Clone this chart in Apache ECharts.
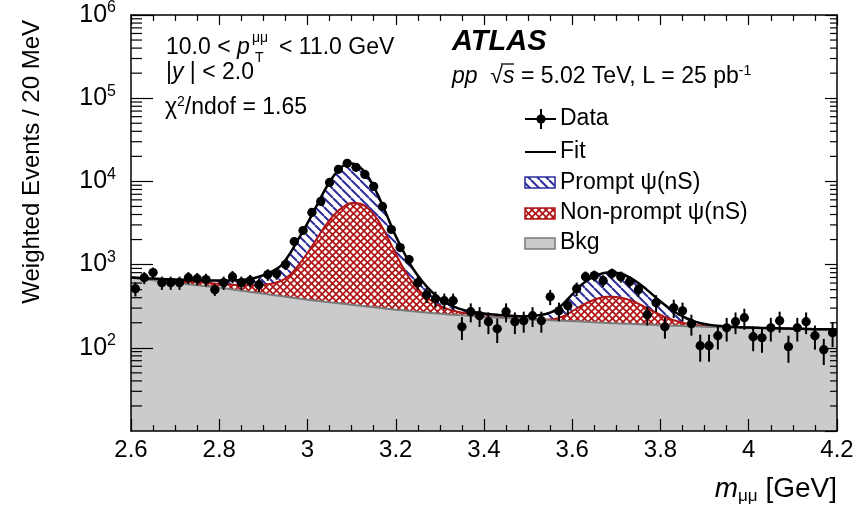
<!DOCTYPE html>
<html>
<head>
<meta charset="utf-8">
<script src="https://cdn.jsdelivr.net/npm/echarts@6/dist/echarts.min.js"></script>
<style>
html,body{margin:0;padding:0;background:#fff;}
#chart{width:858px;height:507px;}
</style>
</head>
<body>
<div id="chart"></div>
<script>
// ---------------- data ----------------
const massBins = [2.61,2.63,2.65,2.67,2.69,2.71,2.73,2.75,2.77,2.79,2.81,2.83,2.85,2.87,2.89,2.91,2.93,2.95,2.97,2.99,3.01,3.03,3.05,3.07,3.09,3.11,3.13,3.15,3.17,3.19,3.21,3.23,3.25,3.27,3.29,3.31,3.33,3.35,3.37,3.39,3.41,3.43,3.45,3.47,3.49,3.51,3.53,3.55,3.57,3.59,3.61,3.63,3.65,3.67,3.69,3.71,3.73,3.75,3.77,3.79,3.81,3.83,3.85,3.87,3.89,3.91,3.93,3.95,3.97,3.99,4.01,4.03,4.05,4.07,4.09,4.11,4.13,4.15,4.17,4.19];
const weightedEvents = [514,697,801,607,607,607,697,678,660,500,
  607,716,607,641,574,759,776,1000,1892,2570,
  4240,5740,9720,13960,16490,14760,12140,8710,5000,2640,
  1600,1148,607,435,389,368,368,179,272,243,
  206,169,272,206,212,243,212,411,279,321,
  514,716,737,641,780,716,624,500,250,349,
  179,303,279,195,106,106,140,174,206,230,
  136,132,174,212,103,174,206,140,95,152];
const eventErrors = [100,115,120,110,110,110,115,115,115,80,
  110,120,110,110,105,120,120,140,200,250,
  330,400,550,650,700,650,600,500,380,250,
  180,150,110,90,85,80,80,55,70,65,
  60,55,70,60,60,65,60,85,70,75,
  95,110,110,105,115,110,105,95,65,80,
  50,75,70,55,38,38,45,55,60,65,
  45,45,55,60,37,55,60,45,33,50];

const curveX = [2.60,2.62,2.64,2.66,2.68,2.70,2.72,2.74,2.76,2.78,2.80,2.82,2.84,2.86,2.88,2.90,2.92,2.94,2.96,2.98,3.00,3.02,3.04,3.06,3.08,3.10,3.12,3.14,3.16,3.18,3.20,3.22,3.24,3.26,3.28,3.30,3.32,3.34,3.36,3.38,3.40,3.42,3.44,3.46,3.48,3.50,3.52,3.54,3.56,3.58,3.60,3.62,3.64,3.66,3.68,3.70,3.72,3.74,3.76,3.78,3.80,3.82,3.84,3.86,3.88,3.90,3.92,3.94,3.96,3.98,4.00,4.02,4.04,4.06,4.08,4.10,4.12,4.14,4.16,4.18,4.20];
// total fit
const fitTotal = [700,690,682,675,668,662,656,651,647,644,
  642,643,648,660,690,745,830,970,1350,2050,
  3150,5000,8000,11800,15300,16400,14600,10800,6800,3900,
  2200,1350,880,630,480,390,335,300,280,268,
  258,251,246,242,240,240,244,255,280,340,
  440,565,675,760,805,800,745,650,545,445,
  360,298,255,225,205,193,186,182,179,177,
  175,174,173,172,171,170,169,168,167,167,166];
// background + non-prompt psi(nS)
const fitNonPromptTop = [700,688,676,664,652,641,630,619,608,597,
  586,576,568,563,563,570,592,635,750,990,
  1380,2000,2900,3950,4900,5500,5400,4600,3400,2200,
  1350,850,590,450,370,320,290,271,258,248,
  240,235,231,228,225,222,220,219,222,240,
  275,318,360,395,411,408,390,358,318,280,
  248,224,207,195,188,183,180,178,177,176,
  175,174,173,172,171,170,169,168,167,167,166];
// background
const fitBkg = [697,678,659,641,624,607,590,574,558,543,
  528,511,494,478,462,447,432,418,404,391,
  379,368,358,348,339,330,321,312,303,295,
  287,281,274,268,262,257,252,248,244,240,
  236,233,229,226,223,220,218,216,213,211,
  209,207,204,202,199,197,195,193,191,189,
  187,185,184,182,181,179,178,177,176,175,
  174,173,172,171,170,169,168,167,166,166,165];

const yMinorTickValues = [20,30,40,50,60,70,80,90,200,300,400,500,600,700,800,900,
  2000,3000,4000,5000,6000,7000,8000,9000,20000,30000,40000,50000,60000,70000,80000,90000,
  200000,300000,400000,500000,600000,700000,800000,900000];

const legendLabels = ['Data','Fit','Prompt \u03c8(nS)','Non-prompt \u03c8(nS)','Bkg'];

// ---------------- styling ----------------
const X_MIN = 2.6, X_MAX = 4.2, X_STEP = 0.2, Y_MIN = 10, Y_MAX = 1e6;
const BIN_HALF = 0.01;
const FONT = '"Liberation Sans", Arial, Helvetica, sans-serif';
const BLUE = '#2c2c9c', RED = '#b01414', GRAY_FILL = '#cbcbcb', GRAY_LINE = '#7a7a7a';

function hatchCanvas() {
  const s = 9, c = document.createElement('canvas');
  c.width = s; c.height = s;
  const g = c.getContext('2d');
  g.fillStyle = '#fff'; g.fillRect(0, 0, s, s);
  g.strokeStyle = BLUE; g.lineWidth = 2;
  for (const o of [-s, 0, s]) { g.beginPath(); g.moveTo(o, 0); g.lineTo(o + s, s); g.stroke(); }
  return c;
}
function crossCanvas() {
  const s = 7, c = document.createElement('canvas');
  c.width = s; c.height = s;
  const g = c.getContext('2d');
  g.fillStyle = '#fff'; g.fillRect(0, 0, s, s);
  g.strokeStyle = RED; g.lineWidth = 1.7;
  for (const o of [-s, 0, s]) {
    g.beginPath(); g.moveTo(o, 0); g.lineTo(o + s, s); g.stroke();
    g.beginPath(); g.moveTo(o + s, 0); g.lineTo(o, s); g.stroke();
  }
  return c;
}
const bluePattern = { image: hatchCanvas(), repeat: 'repeat' };
const redPattern = { image: crossCanvas(), repeat: 'repeat' };

const pairs = (xs, ys) => xs.map((x, i) => [x, ys[i]]);

function renderData(params, api) {
  const x = api.value(0), y = api.value(1), e = api.value(2);
  const c = api.coord([x, y]);
  const t = api.coord([x, y + e]);
  const b = api.coord([x, Math.max(y - e, 1e-3)]);
  const l = api.coord([x - BIN_HALF, y]);
  const r = api.coord([x + BIN_HALF, y]);
  return {
    type: 'group',
    children: [
      { type: 'line', shape: { x1: c[0], y1: t[1], x2: c[0], y2: b[1] }, style: { stroke: '#000', lineWidth: 2 } },
      { type: 'line', shape: { x1: l[0], y1: c[1], x2: r[0], y2: c[1] }, style: { stroke: '#000', lineWidth: 1.5 } },
      { type: 'circle', shape: { cx: c[0], cy: c[1], r: 4.6 }, style: { fill: '#000' } }
    ]
  };
}
function renderMinorTicks(params, api) {
  const v = api.value(1);
  const L = api.coord([X_MIN, v]);
  const R = api.coord([X_MAX, v]);
  return {
    type: 'group',
    children: [
      { type: 'line', shape: { x1: L[0], y1: L[1], x2: L[0] + 11, y2: L[1] }, style: { stroke: '#000', lineWidth: 1.2 } },
      { type: 'line', shape: { x1: R[0] - 7, y1: R[1], x2: R[0], y2: R[1] }, style: { stroke: '#000', lineWidth: 1.2 } }
    ]
  };
}

function txt(x, y, text, extra) {
  return {
    type: 'text', x: x, y: y, silent: true, z: 100,
    style: Object.assign({ text: text, fontSize: 23, fontFamily: FONT, fill: '#000', align: 'left', verticalAlign: 'middle' }, extra || {})
  };
}
const italic = { fontStyle: 'italic', fontSize: 23, fontFamily: FONT };

const axisLineStyle = { color: '#000', width: 1.5 };
const tickStyle = { color: '#000', width: 1.2 };

const option = {
  animation: false,
  backgroundColor: '#fff',
  grid: { left: 131, right: 21, top: 15, bottom: 76, containLabel: false },
  xAxis: [
    {
      type: 'value', min: X_MIN, max: X_MAX, interval: X_STEP, position: 'bottom', z: 10,
      axisLine: { show: true, onZero: false, lineStyle: axisLineStyle },
      axisTick: { show: true, inside: true, length: 12, lineStyle: tickStyle },
      minorTick: { show: true, splitNumber: 4, length: 6, lineStyle: tickStyle },
      splitLine: { show: false },
      axisLabel: { fontSize: 24, fontFamily: FONT, color: '#000', margin: 7,
        formatter: v => String(Math.round(v * 10) / 10) }
    },
    {
      type: 'value', min: X_MIN, max: X_MAX, interval: X_STEP, position: 'top', z: 10,
      axisLine: { show: true, onZero: false, lineStyle: axisLineStyle },
      axisTick: { show: true, inside: true, length: 10, lineStyle: tickStyle },
      minorTick: { show: true, splitNumber: 4, length: 6, lineStyle: tickStyle },
      splitLine: { show: false },
      axisLabel: { show: false }
    }
  ],
  yAxis: [
    {
      type: 'log', logBase: 10, min: Y_MIN, max: Y_MAX, position: 'left', z: 10,
      axisLine: { show: true, onZero: false, lineStyle: axisLineStyle },
      axisTick: { show: true, inside: true, length: 22, lineStyle: tickStyle },
      splitLine: { show: false },
      axisLabel: {
        showMinLabel: false, margin: 15, color: '#000',
        formatter: v => '{b|10}{s|' + Math.round(Math.log10(v)) + '}',
        rich: {
          b: { fontSize: 25, fontFamily: FONT, lineHeight: 30, verticalAlign: 'middle', color: '#000' },
          s: { fontSize: 16, fontFamily: FONT, lineHeight: 14, verticalAlign: 'top', color: '#000' }
        }
      }
    },
    {
      type: 'log', logBase: 10, min: Y_MIN, max: Y_MAX, position: 'right', z: 10,
      axisLine: { show: true, onZero: false, lineStyle: axisLineStyle },
      axisTick: { show: true, inside: true, length: 12, lineStyle: tickStyle },
      splitLine: { show: false },
      axisLabel: { show: false }
    }
  ],
  series: [
    {
      name: 'Prompt', type: 'line', data: pairs(curveX, fitTotal), smooth: 0.3, showSymbol: false, silent: true,
      lineStyle: { opacity: 0 }, areaStyle: { color: bluePattern, opacity: 1, origin: 'start' }, z: 2
    },
    {
      name: 'Non-prompt', type: 'line', data: pairs(curveX, fitNonPromptTop), smooth: 0.3, showSymbol: false, silent: true,
      lineStyle: { color: RED, width: 2 }, areaStyle: { color: redPattern, opacity: 1, origin: 'start' }, z: 2
    },
    {
      name: 'Bkg', type: 'line', data: pairs(curveX, fitBkg), smooth: 0.3, showSymbol: false, silent: true,
      lineStyle: { color: GRAY_LINE, width: 2 }, areaStyle: { color: GRAY_FILL, opacity: 1, origin: 'start' }, z: 2
    },
    {
      name: 'Fit', type: 'line', data: pairs(curveX, fitTotal), smooth: 0.3, showSymbol: false, silent: true,
      lineStyle: { color: '#000', width: 2.5 }, z: 3
    },
    {
      name: 'Data', type: 'custom', renderItem: renderData, silent: true, z: 4,
      encode: { x: 0, y: 1 },
      data: massBins.map((m, i) => [m, weightedEvents[i], eventErrors[i]])
    },
    {
      name: 'minorTicks', type: 'custom', renderItem: renderMinorTicks, silent: true, z: 11,
      encode: { x: 0, y: 1 },
      data: yMinorTickValues.map(v => [X_MIN, v])
    }
  ],
  graphic: [
    // axis titles
    { type: 'text', x: 32, y: 20, rotation: Math.PI / 2, silent: true,
      style: { text: 'Weighted Events / 20 MeV', fontSize: 24, fontFamily: FONT, fill: '#000', align: 'right', verticalAlign: 'middle' } },
    txt(837, 489, '{i|m}{sub|\u03bc\u03bc} [GeV]', { align: 'right', fontSize: 28, lineHeight: 32,
      rich: { i: { fontStyle: 'italic', fontSize: 28, fontFamily: FONT }, sub: { fontSize: 17, fontFamily: FONT, lineHeight: 14, verticalAlign: 'bottom' } } }),
    // top-left annotations
    txt(166, 48, '10.0 < {i|p}', { rich: { i: italic } }),
    txt(252, 38, '\u03bc\u03bc', { fontSize: 14 }),
    txt(255, 58, 'T', { fontSize: 14 }),
    txt(279, 48, '< 11.0 GeV'),
    txt(166, 73, '|{i|y} | < 2.0', { rich: { i: italic } }),
    txt(165, 108, '\u03c7{s|2}/ndof = 1.65', { lineHeight: 26, rich: { s: { fontSize: 14, fontFamily: FONT, lineHeight: 14, verticalAlign: 'top' } } }),
    // top-right annotations
    txt(452, 42, 'ATLAS', { fontSize: 29, fontWeight: 'bold', fontStyle: 'italic' }),
    txt(452, 77, '{i|pp}  \u221a{i|s} = 5.02 TeV, L = 25 pb{s|-1}', { lineHeight: 26,
      rich: { i: italic, s: { fontSize: 14, fontFamily: FONT, lineHeight: 14, verticalAlign: 'top' } } }),
    { type: 'line', shape: { x1: 501, y1: 64, x2: 514, y2: 64 }, style: { stroke: '#000', lineWidth: 1.3 }, z: 100 },
    // legend symbols
    { type: 'line', shape: { x1: 525, y1: 119, x2: 556, y2: 119 }, style: { stroke: '#000', lineWidth: 2 }, z: 100 },
    { type: 'line', shape: { x1: 541, y1: 109, x2: 541, y2: 129 }, style: { stroke: '#000', lineWidth: 2 }, z: 100 },
    { type: 'circle', shape: { cx: 541, cy: 119, r: 4.6 }, style: { fill: '#000' }, z: 100 },
    { type: 'line', shape: { x1: 525, y1: 152, x2: 556, y2: 152 }, style: { stroke: '#000', lineWidth: 2 }, z: 100 },
    { type: 'rect', shape: { x: 525, y: 177, width: 30, height: 11 }, style: { fill: bluePattern, stroke: BLUE, lineWidth: 1.5 }, z: 100 },
    { type: 'rect', shape: { x: 525, y: 208, width: 30, height: 11 }, style: { fill: redPattern, stroke: RED, lineWidth: 1.5 }, z: 100 },
    { type: 'rect', shape: { x: 525, y: 238, width: 30, height: 11 }, style: { fill: GRAY_FILL, stroke: GRAY_LINE, lineWidth: 1.5 }, z: 100 },
    txt(560, 119, legendLabels[0]),
    txt(560, 152, legendLabels[1]),
    txt(560, 183, legendLabels[2]),
    txt(560, 213, legendLabels[3]),
    txt(560, 243, legendLabels[4])
  ]
};

const chart = echarts.init(document.getElementById('chart'), null, { renderer: 'canvas' });
chart.setOption(option);
</script>
</body>
</html>
